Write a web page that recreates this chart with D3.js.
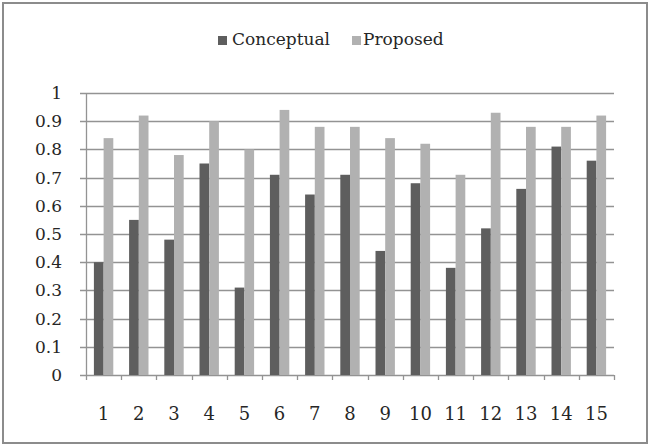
<!DOCTYPE html>
<html>
<head>
<meta charset="utf-8">
<script src="https://cdn.jsdelivr.net/npm/d3@7"></script>
<style>
  body { margin: 0; background: #fff; }
  text { font-family: "DejaVu Serif", "Liberation Serif", serif; fill: #262626; }
</style>
</head>
<body>
<svg id="chart" width="659" height="447"></svg>
<script>
// chart data
const categories = ["1","2","3","4","5","6","7","8","9","10","11","12","13","14","15"];
const seriesNames = ["Conceptual", "Proposed"];
const conceptual = [0.40, 0.55, 0.48, 0.75, 0.31, 0.71, 0.64, 0.71, 0.44, 0.68, 0.38, 0.52, 0.66, 0.81, 0.76];
const proposed = [0.84, 0.92, 0.78, 0.90, 0.80, 0.94, 0.88, 0.88, 0.84, 0.82, 0.71, 0.93, 0.88, 0.88, 0.92];
const yTicks = [0, 0.1, 0.2, 0.3, 0.4, 0.5, 0.6, 0.7, 0.8, 0.9, 1];

const colors = { Conceptual: "#5e5e5e", Proposed: "#b1b1b1" };

const svg = d3.select("#chart");
const plotLeft = 86, plotRight = 614, plotTop = 93, plotBottom = 375;

// outer frame
svg.append("rect")
  .attr("x", 3).attr("y", 3)
  .attr("width", 644).attr("height", 440)
  .attr("fill", "none")
  .attr("stroke", "#8c8c8c")
  .attr("stroke-width", 2);

const x = d3.scaleBand().domain(categories).range([plotLeft, plotRight]).paddingInner(0).paddingOuter(0);
const xs = d3.scaleBand().domain(seriesNames).range([0, x.bandwidth()]).paddingInner(0).paddingOuter(0.815);
const y = d3.scaleLinear().domain([0, 1]).range([plotBottom, plotTop]);

// grid lines
svg.append("g").selectAll("line").data(yTicks).enter().append("line")
  .attr("x1", plotLeft - 6).attr("x2", plotRight)
  .attr("y1", d => Math.round(y(d)) + 0.5)
  .attr("y2", d => Math.round(y(d)) + 0.5)
  .attr("stroke", "#939393")
  .attr("stroke-width", 1.3);

// y axis line
svg.append("line")
  .attr("x1", plotLeft + 0.5).attr("x2", plotLeft + 0.5)
  .attr("y1", plotTop).attr("y2", plotBottom)
  .attr("stroke", "#939393").attr("stroke-width", 1.3);

// y labels
svg.append("g").selectAll("text").data(yTicks).enter().append("text")
  .attr("x", 62)
  .attr("y", d => y(d) + 6)
  .attr("text-anchor", "end")
  .attr("font-size", 17)
  .text(d => d3.format("~g")(d));

// bars
const data = categories.map((c, i) => ({ cat: c, vals: [
  { name: "Conceptual", v: conceptual[i] },
  { name: "Proposed", v: proposed[i] }
]}));

const groups = svg.append("g").selectAll("g").data(data).enter().append("g")
  .attr("transform", d => "translate(" + x(d.cat) + ",0)");

groups.selectAll("rect").data(d => d.vals).enter().append("rect")
  .attr("x", d => xs(d.name))
  .attr("y", d => y(d.v))
  .attr("width", xs.bandwidth())
  .attr("height", d => y(0) - y(d.v))
  .attr("fill", d => colors[d.name]);

// x tick marks at category boundaries
const bounds = categories.map(c => x(c)).concat([plotRight]);
svg.append("g").selectAll("line").data(bounds).enter().append("line")
  .attr("x1", d => Math.round(d) + 0.5).attr("x2", d => Math.round(d) + 0.5)
  .attr("y1", plotBottom).attr("y2", plotBottom + 5)
  .attr("stroke", "#939393").attr("stroke-width", 1.3);

// x labels
svg.append("g").selectAll("text").data(categories).enter().append("text")
  .attr("x", d => x(d) + x.bandwidth() / 2)
  .attr("y", 420)
  .attr("text-anchor", "middle")
  .attr("font-size", 18)
  .text(d => d);

// legend
const legend = svg.append("g");
const legendItems = [
  { name: "Conceptual", sx: 218, tx: 232 },
  { name: "Proposed", sx: 352, tx: 363 }
];
legend.selectAll("rect").data(legendItems).enter().append("rect")
  .attr("x", d => d.sx).attr("y", 36)
  .attr("width", 9).attr("height", 9)
  .attr("fill", d => colors[d.name]);
legend.selectAll("text").data(legendItems).enter().append("text")
  .attr("x", d => d.tx).attr("y", 45)
  .attr("font-size", 17)
  .text(d => d.name);
</script>
</body>
</html>
